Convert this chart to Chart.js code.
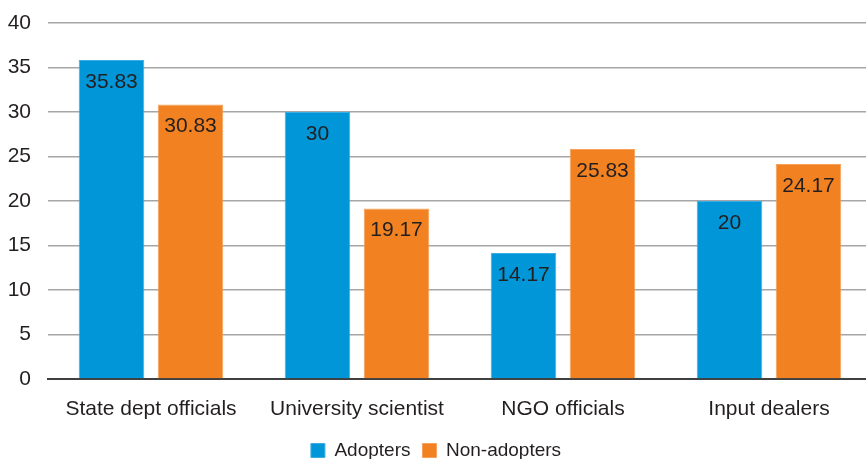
<!DOCTYPE html>
<html>
<head>
<meta charset="utf-8">
<script src="https://cdn.jsdelivr.net/npm/chart.js@4"></script>
<style>
  html, body { margin: 0; padding: 0; background: #fff; overflow: hidden; }
  #wrap { width: 866px; height: 459px; overflow: hidden; }
</style>
</head>
<body>
<div id="wrap"><canvas id="c" width="872" height="470"></canvas></div>
<script>
const categories = ['State dept officials', 'University scientist', 'NGO officials', 'Input dealers'];
const adopters = [35.83, 30, 14.17, 20];
const nonAdopters = [30.83, 19.17, 25.83, 24.17];
const yTicks = [0, 5, 10, 15, 20, 25, 30, 35, 40];

const FONT = "'Liberation Sans', Arial, sans-serif";
const FONT_SIZE = 21;

// Writes each bar's value just inside its top edge
const valueLabels = {
  id: 'valueLabels',
  afterDatasetsDraw(chart) {
    const ctx = chart.ctx;
    ctx.save();
    ctx.font = FONT_SIZE + 'px ' + FONT;
    ctx.fillStyle = '#231f20';
    ctx.textAlign = 'center';
    ctx.textBaseline = 'middle';
    chart.data.datasets.forEach((ds, i) => {
      chart.getDatasetMeta(i).data.forEach((bar, j) => {
        ctx.fillText(String(ds.data[j]), bar.x, bar.y + 22);
      });
    });
    ctx.restore();
  }
};

new Chart(document.getElementById('c'), {
  type: 'bar',
  data: {
    labels: categories,
    datasets: [
      { label: 'Adopters', data: adopters, backgroundColor: '#0096d8', borderColor: '#3aaee4', borderWidth: 1,
        barPercentage: 0.83, categoryPercentage: 0.767 },
      { label: 'Non-adopters', data: nonAdopters, backgroundColor: '#f28221', borderColor: '#f6a05a', borderWidth: 1,
        barPercentage: 0.83, categoryPercentage: 0.767 }
    ]
  },
  options: {
    responsive: false,
    animation: false,
    layout: { padding: { top: 23, right: 0, bottom: 0, left: 0 } },
    plugins: {
      legend: {
        position: 'bottom',
        labels: {
          color: '#231f20',
          font: { family: FONT, size: 19 },
          boxWidth: 14, boxHeight: 14, padding: 12
        }
      },
      tooltip: { enabled: false }
    },
    scales: {
      x: {
        afterFit(scale) { scale.height = 50; },
        grid: { display: false, drawTicks: false },
        border: { color: '#404040', width: 2 },
        ticks: { color: '#231f20', font: { family: FONT, size: FONT_SIZE }, padding: 18 }
      },
      y: {
        min: 0, max: 40,
        afterFit(scale) { scale.width = 48; scale.paddingTop = 0; scale.paddingBottom = 0; },
        afterBuildTicks(scale) { scale.ticks = yTicks.map(v => ({ value: v })); },
        grid: { color: '#a6a6a6', lineWidth: 1.5, drawTicks: false },
        border: { display: false },
        ticks: { color: '#231f20', font: { family: FONT, size: FONT_SIZE }, padding: 17 }
      }
    }
  },
  plugins: [valueLabels]
});
</script>
</body>
</html>
